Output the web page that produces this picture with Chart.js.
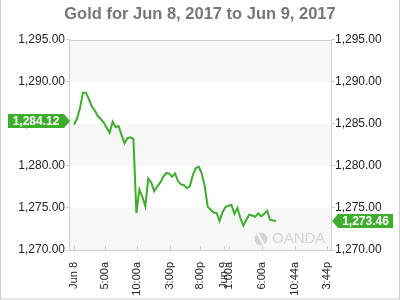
<!DOCTYPE html>
<html>
<head>
<meta charset="utf-8">
<script src="https://cdn.jsdelivr.net/npm/chart.js@4/dist/chart.umd.min.js"></script>
<style>
    html, body { margin: 0; padding: 0; background: #fff; }
    #wrap { width: 400px; height: 300px; position: relative; }
</style>
</head>
<body>
<div id="wrap"><canvas id="goldChart" width="400" height="300"></canvas></div>
<script>
// --- dados ---
const titleText = 'Gold for Jun 8, 2017 to Jun 9, 2017';
const prices = [
    1284.92, 1285.60, 1286.85, 1288.70, 1288.70, 1287.94, 1287.05, 1286.60, 1285.93, 1285.58,
    1285.16, 1284.55, 1283.95, 1285.25, 1284.60, 1284.75, 1283.70, 1282.70, 1283.30, 1283.40,
    1283.20, 1274.40, 1277.20, 1276.30, 1275.20, 1278.50, 1278.00, 1277.00, 1277.55, 1278.00,
    1278.70, 1279.15, 1279.10, 1278.70, 1279.10, 1278.20, 1277.80, 1277.72, 1277.35, 1277.60,
    1278.90, 1279.75, 1279.90, 1279.10, 1277.60, 1275.15, 1274.80, 1274.45, 1274.40, 1273.45,
    1274.50, 1275.12, 1275.26, 1275.37, 1274.30, 1275.00, 1273.80, 1272.90, 1273.60, 1274.20,
    1274.10, 1273.95, 1274.35, 1274.00, 1274.30, 1274.65, 1273.60, 1273.52, 1273.46
];
const tickPositions = [0, 10.5, 21.3, 32.3, 42.4, 50.6, 52.0, 63.2, 74.4, 85.1];
const tickLabels = ['Jun 8', '5:00a', '10:00a', '3:00p', '8:00p', 'Jun 9', '1:00a', '6:00a', '10:44a', '3:44p'];
const openLabel = '1,284.12';
const closeLabel = '1,273.46';
const yMin = 1270;
const yMax = 1295;
const yStep = 5;

const green = '#3dae2b';
const fontFamily = '"Liberation Sans", Arial, sans-serif';

const formatPrice = (v) => v.toLocaleString('en-US', { minimumFractionDigits: 2, maximumFractionDigits: 2 });

// fundo em faixas, moldura, marcadores e marca d'água
const decorPlugin = {
    id: 'decor',
    beforeDatasetsDraw(chart) {
        const { ctx, chartArea } = chart;
        const y = chart.scales.y;
        ctx.save();
        for (let v = yMin, k = 0; v < yMax; v += yStep, k++) {
            if (k % 2 === 0) {
                const top = y.getPixelForValue(v + yStep);
                const bottom = y.getPixelForValue(v);
                ctx.fillStyle = '#f7f7f7';
                ctx.fillRect(chartArea.left, top, chartArea.right - chartArea.left, bottom - top);
            }
        }
        // marca d'água
        ctx.fillStyle = '#d4d4d4';
        ctx.font = '15px ' + fontFamily;
        ctx.textBaseline = 'middle';
        ctx.fillText('OANDA', 272, 239);
        ctx.beginPath();
        ctx.arc(261, 239, 6.5, 0, Math.PI * 2);
        ctx.fill();
        ctx.strokeStyle = '#fff';
        ctx.lineWidth = 2;
        ctx.beginPath();
        ctx.moveTo(258, 234);
        ctx.lineTo(264, 245);
        ctx.stroke();

        // ticks internos do eixo x
        const x = chart.scales.x;
        ctx.strokeStyle = '#ccc';
        ctx.lineWidth = 1;
        x.ticks.forEach(t => {
            const px = Math.round(x.getPixelForValue(t.value)) + 0.5;
            ctx.beginPath();
            ctx.moveTo(px, chartArea.bottom - 4);
            ctx.lineTo(px, chartArea.bottom);
            ctx.stroke();
        });
        ctx.restore();
    },
    afterDraw(chart) {
        const { ctx, chartArea } = chart;
        const y = chart.scales.y;
        ctx.save();
        ctx.strokeStyle = '#cfcfcf';
        ctx.lineWidth = 1;
        ctx.strokeRect(Math.round(chartArea.left) - 0.5, Math.round(chartArea.top) + 0.5,
            Math.round(chartArea.right - chartArea.left) + 1, Math.round(chartArea.bottom - chartArea.top));
        ctx.strokeStyle = '#d0d0d0';
        ctx.strokeRect(0.5, -1, 399, 300);

        // marcadores de abertura e fechamento
        const h = 14;
        ctx.font = 'bold 12px ' + fontFamily;
        ctx.textAlign = 'center';
        ctx.textBaseline = 'middle';

        const yOpen = Math.round(y.getPixelForValue(prices[0])) - 4;
        const tipL = Math.round(chartArea.left);
        ctx.fillStyle = green;
        ctx.beginPath();
        ctx.moveTo(8, yOpen - h / 2);
        ctx.lineTo(tipL - 6, yOpen - h / 2);
        ctx.lineTo(tipL, yOpen);
        ctx.lineTo(tipL - 6, yOpen + h / 2);
        ctx.lineTo(8, yOpen + h / 2);
        ctx.closePath();
        ctx.fill();
        ctx.fillStyle = '#fff';
        ctx.fillText(openLabel, (8 + tipL - 6) / 2, yOpen + 1);

        const yClose = Math.round(y.getPixelForValue(prices[prices.length - 1]));
        const tipR = Math.round(chartArea.right) + 1;
        ctx.fillStyle = green;
        ctx.beginPath();
        ctx.moveTo(tipR, yClose);
        ctx.lineTo(tipR + 6, yClose - h / 2);
        ctx.lineTo(393, yClose - h / 2);
        ctx.lineTo(393, yClose + h / 2);
        ctx.lineTo(tipR + 6, yClose + h / 2);
        ctx.closePath();
        ctx.fill();
        ctx.fillStyle = '#fff';
        ctx.fillText(closeLabel, (tipR + 6 + 393) / 2, yClose + 1);
        ctx.restore();
    }
};

const yTicks = {
    color: '#222',
    font: { family: fontFamily, size: 12 },
    padding: 1,
    stepSize: yStep,
    callback: (v) => formatPrice(v)
};

const ctx = document.getElementById('goldChart').getContext('2d');
const goldChart = new Chart(ctx, {
    type: 'line',
    data: {
        labels: prices.map((_, i) => i),
        datasets: [{
            data: prices.map((p, i) => ({ x: i, y: p })),
            borderColor: green,
            borderWidth: 2,
            pointRadius: 0,
            tension: 0,
            fill: false
        }]
    },
    options: {
        responsive: false,
        animation: false,
        layout: { padding: { top: 0, left: 0, right: 0, bottom: 0 } },
        plugins: {
            legend: { display: false },
            tooltip: { enabled: false },
            title: {
                display: true,
                text: titleText,
                color: '#777',
                font: { family: fontFamily, size: 16.5, weight: 'bold' },
                padding: { top: 5, bottom: 15 }
            }
        },
        scales: {
            x: {
                type: 'linear',
                min: -1.35,
                max: 86.5,
                border: { display: false },
                grid: { display: false },
                afterBuildTicks: (scale) => {
                    scale.ticks = tickPositions.map(v => ({ value: v }));
                },
                afterFit: (scale) => { scale.height = 50; },
                ticks: {
                    autoSkip: false,
                    minRotation: 90,
                    maxRotation: 90,
                    padding: 4,
                    color: '#222',
                    font: { family: fontFamily, size: 11 },
                    callback: (v, i) => tickLabels[i]
                }
            },
            y: {
                position: 'left',
                min: yMin,
                max: yMax,
                border: { display: false },
                grid: { drawOnChartArea: false, drawTicks: true, tickLength: 4, color: '#ccc' },
                afterFit: (scale) => { scale.width = 70; },
                ticks: yTicks
            },
            y2: {
                position: 'right',
                min: yMin,
                max: yMax,
                border: { display: false },
                grid: { drawOnChartArea: false, drawTicks: true, tickLength: 4, color: '#ccc' },
                afterFit: (scale) => { scale.width = 69; },
                ticks: { ...yTicks, padding: 0 }
            }
        }
    },
    plugins: [decorPlugin]
});
</script>
</body>
</html>
